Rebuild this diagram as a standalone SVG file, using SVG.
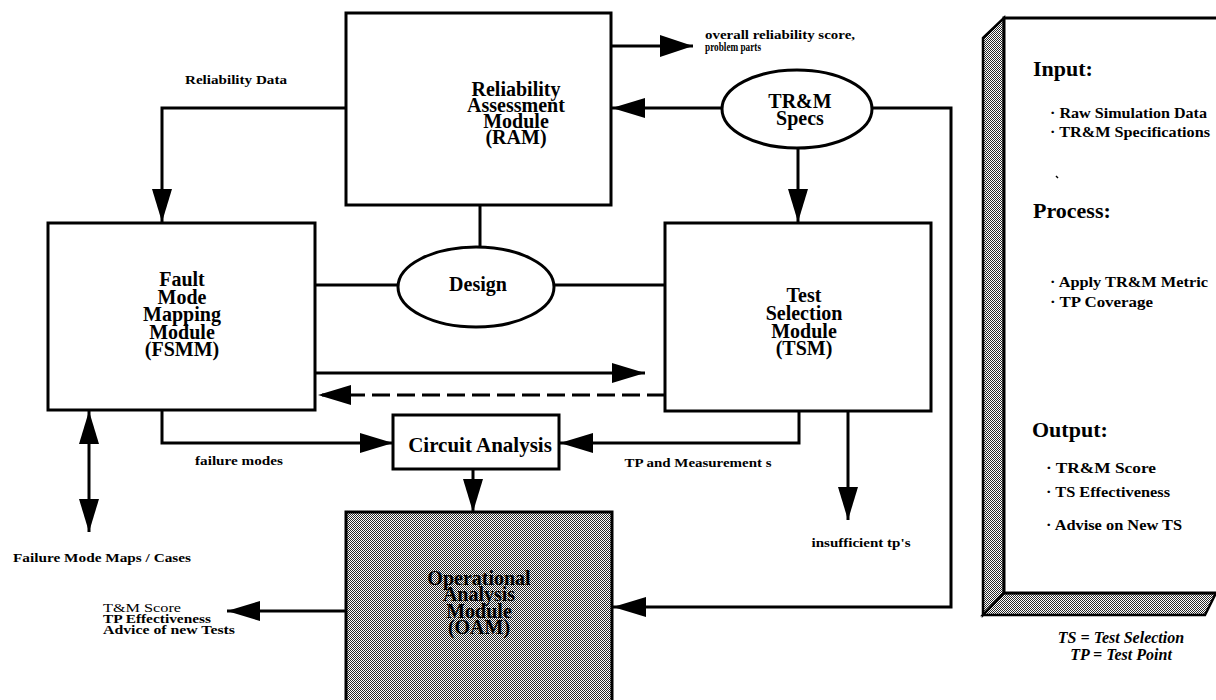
<svg xmlns="http://www.w3.org/2000/svg" width="1216" height="700" viewBox="0 0 1216 700">
<style>
.box{fill:#fff;stroke:#000;stroke-width:3}
.conn{fill:none;stroke:#000;stroke-width:3}
.nt{font-family:"Liberation Serif","Times New Roman",serif;font-weight:bold;font-size:20px;text-anchor:middle;fill:#000}
.lb{font-family:"Liberation Serif","Times New Roman",serif;font-weight:bold;font-size:13px;fill:#000}
.lr{font-family:"Liberation Serif","Times New Roman",serif;font-weight:normal;font-size:12px;fill:#000}
.ph{font-family:"Liberation Serif","Times New Roman",serif;font-weight:bold;font-size:22px;fill:#000}
.pi{font-family:"Liberation Serif","Times New Roman",serif;font-weight:bold;font-size:15px;fill:#000}
.pn{font-family:"Liberation Serif","Times New Roman",serif;font-weight:bold;font-style:italic;font-size:16px;text-anchor:middle;fill:#000}
</style>
<defs>
<pattern id="chk" width="2" height="2" patternUnits="userSpaceOnUse">
<rect width="2" height="2" fill="#fff"/>
<rect width="1" height="1" fill="#2a2a2a"/>
<rect x="1" y="1" width="1" height="1" fill="#2a2a2a"/>
</pattern>
<marker id="ah" markerWidth="34" markerHeight="22" refX="33" refY="10" orient="auto-start-reverse" markerUnits="userSpaceOnUse">
<path d="M0,0 L33,10 L0,20 z" fill="#000"/>
</marker>
<marker id="ahb" markerWidth="36" markerHeight="24" refX="33" refY="11" orient="auto" markerUnits="userSpaceOnUse">
<path d="M0,0 L33,11 L0,22 z" fill="#000"/>
</marker>
</defs>

<g id="connectors">
<path class="conn" d="M346,108 H162 V222" marker-end="url(#ah)"/>
<path class="conn" d="M611,46 H693" marker-end="url(#ahb)"/>
<path class="conn" d="M722,108 H612" marker-end="url(#ah)"/>
<path class="conn" d="M798,148 V222" marker-end="url(#ah)"/>
<path class="conn" d="M873,108 H951 V607 H613" marker-end="url(#ah)"/>
<path class="conn" d="M480,205 V247"/>
<path class="conn" d="M315,285 H398"/>
<path class="conn" d="M554,285 H665"/>
<path class="conn" d="M315,373 H645" marker-end="url(#ah)"/>
<path class="conn" d="M665,395 H318" stroke-dasharray="18 7" marker-end="url(#ah)"/>
<path class="conn" d="M162,410 V443 H393" marker-end="url(#ah)"/>
<path class="conn" d="M799,411 V443 H560" marker-end="url(#ah)"/>
<path class="conn" d="M848,411 V520" marker-end="url(#ah)"/>
<path class="conn" d="M473,469 V512" marker-end="url(#ah)"/>
<path class="conn" d="M345,611 H227" marker-end="url(#ah)"/>
<path class="conn" d="M89,411 V532" marker-start="url(#ah)" marker-end="url(#ah)"/>
</g>

<g id="ram">
<rect class="box" x="346" y="13" width="265" height="192"/>
<text class="nt"><tspan x="516" y="96">Reliability</tspan><tspan x="516" y="112">Assessment</tspan><tspan x="516" y="128">Module</tspan><tspan x="516" y="144">(RAM)</tspan></text>
</g>

<g id="trm-specs">
<ellipse class="box" cx="797" cy="109" rx="75" ry="39"/>
<text class="nt"><tspan x="800" y="108">TR&amp;M</tspan><tspan x="800" y="125">Specs</tspan></text>
</g>

<g id="fsmm">
<rect class="box" x="48" y="223" width="267" height="187"/>
<text class="nt"><tspan x="182" y="286">Fault</tspan><tspan x="182" y="304">Mode</tspan><tspan x="182" y="321">Mapping</tspan><tspan x="182" y="339">Module</tspan><tspan x="182" y="356">(FSMM)</tspan></text>
</g>

<g id="design">
<ellipse class="box" cx="476" cy="287" rx="78" ry="40"/>
<text class="nt" x="478" y="291">Design</text>
</g>

<g id="tsm">
<rect class="box" x="665" y="223" width="266" height="188"/>
<text class="nt"><tspan x="804" y="302">Test</tspan><tspan x="804" y="320">Selection</tspan><tspan x="804" y="338">Module</tspan><tspan x="804" y="355">(TSM)</tspan></text>
</g>

<g id="circuit-analysis">
<rect class="box" x="393" y="415" width="166" height="54"/>
<text class="nt" x="480" y="452" style="font-size:21px">Circuit Analysis</text>
</g>

<g id="oam">
<rect x="346" y="512" width="266" height="200" fill="url(#chk)" stroke="#000" stroke-width="3"/>
<text class="nt"><tspan x="479" y="585">Operational</tspan><tspan x="479" y="601">Analysis</tspan><tspan x="479" y="618">Module</tspan><tspan x="479" y="634">(OAM)</tspan></text>
</g>

<g id="labels">
<text class="lb" x="236" y="84" text-anchor="middle" textLength="102" lengthAdjust="spacingAndGlyphs">Reliability Data</text>
<text class="lb"><tspan x="705" y="39" textLength="150" lengthAdjust="spacingAndGlyphs">overall reliability score,</tspan><tspan x="705" y="51" style="font-size:12px" textLength="56" lengthAdjust="spacingAndGlyphs">problem parts</tspan></text>
<text class="lb" x="239" y="465" text-anchor="middle" textLength="88" lengthAdjust="spacingAndGlyphs">failure modes</text>
<text class="lb" x="698" y="467" text-anchor="middle" textLength="147" lengthAdjust="spacingAndGlyphs">TP and Measurement s</text>
<text class="lb" x="861" y="547" text-anchor="middle" textLength="99" lengthAdjust="spacingAndGlyphs">insufficient tp's</text>
<text class="lb" x="13" y="562" textLength="178" lengthAdjust="spacingAndGlyphs">Failure Mode Maps / Cases</text>
<text class="lr"><tspan x="103" y="612" textLength="78" lengthAdjust="spacingAndGlyphs">T&amp;M Score</tspan><tspan x="103" y="623" style="font-weight:bold" textLength="108" lengthAdjust="spacingAndGlyphs">TP Effectiveness</tspan><tspan x="103" y="634" style="font-weight:bold" textLength="132" lengthAdjust="spacingAndGlyphs">Advice of new Tests</tspan></text>
</g>

<g id="legend-panel">
<polygon points="983,38 1004,18 1004,593 983,615" fill="url(#chk)" stroke="#000" stroke-width="2.5"/>
<polygon points="983,615 1004,593 1216,593 1205,615" fill="url(#chk)" stroke="#000" stroke-width="2.5"/>
<rect x="1004" y="18" width="230" height="575" fill="#fff" stroke="#000" stroke-width="3"/>
<text class="ph" x="1033" y="76">Input:</text>
<text class="pi"><tspan x="1050" y="118" textLength="157" lengthAdjust="spacingAndGlyphs">· Raw Simulation Data</tspan><tspan x="1050" y="137" textLength="160" lengthAdjust="spacingAndGlyphs">· TR&amp;M Specifications</tspan></text>
<line x1="1056" y1="176" x2="1058" y2="178" stroke="#000" stroke-width="1.5"/>
<text class="ph" x="1033" y="218">Process:</text>
<text class="pi"><tspan x="1050" y="287" textLength="158" lengthAdjust="spacingAndGlyphs">· Apply TR&amp;M Metric</tspan><tspan x="1050" y="307" textLength="103" lengthAdjust="spacingAndGlyphs">· TP Coverage</tspan></text>
<text class="ph" x="1032" y="437">Output:</text>
<text class="pi"><tspan x="1046" y="473" textLength="110" lengthAdjust="spacingAndGlyphs">· TR&amp;M Score</tspan><tspan x="1046" y="497" textLength="124" lengthAdjust="spacingAndGlyphs">· TS Effectiveness</tspan><tspan x="1046" y="530" textLength="136" lengthAdjust="spacingAndGlyphs">· Advise on New TS</tspan></text>
<text class="pn"><tspan x="1121" y="643">TS = Test Selection</tspan><tspan x="1121" y="660">TP = Test Point</tspan></text>
</g>
</svg>
